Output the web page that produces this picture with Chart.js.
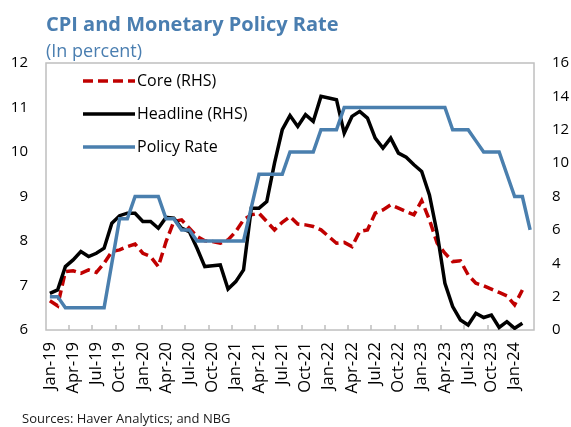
<!DOCTYPE html>
<html><head><meta charset="utf-8">
<script src="https://cdn.jsdelivr.net/npm/chart.js@4"></script>
<style>
html,body{margin:0;padding:0;background:#fff;}
#wrap{position:relative;width:571px;height:427px;overflow:hidden;font-family:"Open Sans",sans-serif;}
#c{position:absolute;left:0;top:0;}
.t{position:absolute;white-space:nowrap;}
</style></head><body>
<div id="wrap">
<canvas id="c" width="571" height="427"></canvas>
<div class="t" style="left:46px;top:14px;font-size:20px;line-height:20px;font-weight:700;color:#4a7eb0">CPI and Monetary Policy Rate</div>
<div class="t" style="left:46px;top:41px;font-size:18px;line-height:18px;color:#4a7eb0">(In percent)</div>
<div class="t" style="left:22px;top:412px;font-size:13px;line-height:13px;color:#1a1a1a">Sources: Haver Analytics; and NBG</div>
</div>
<script>
const months = ["Jan-19","Feb-19","Mar-19","Apr-19","May-19","Jun-19","Jul-19","Aug-19","Sep-19","Oct-19","Nov-19","Dec-19",
"Jan-20","Feb-20","Mar-20","Apr-20","May-20","Jun-20","Jul-20","Aug-20","Sep-20","Oct-20","Nov-20","Dec-20",
"Jan-21","Feb-21","Mar-21","Apr-21","May-21","Jun-21","Jul-21","Aug-21","Sep-21","Oct-21","Nov-21","Dec-21",
"Jan-22","Feb-22","Mar-22","Apr-22","May-22","Jun-22","Jul-22","Aug-22","Sep-22","Oct-22","Nov-22","Dec-22",
"Jan-23","Feb-23","Mar-23","Apr-23","May-23","Jun-23","Jul-23","Aug-23","Sep-23","Oct-23","Nov-23","Dec-23",
"Jan-24","Feb-24","Mar-24"];

// Headline CPI, RHS (percent)
const headline = [2.2,2.4,3.8,4.2,4.7,4.4,4.6,4.9,6.4,6.85,7.0,7.0,
6.5,6.5,6.1,6.75,6.7,6.1,5.9,4.9,3.8,3.85,3.9,2.45,
2.9,3.6,7.3,7.3,7.7,10.0,12.0,12.85,12.2,12.9,12.5,14.0,
13.9,13.8,11.8,12.8,13.1,12.7,11.5,10.9,11.5,10.6,10.35,9.9,
9.5,8.1,5.8,2.8,1.4,0.6,0.3,1.0,0.75,0.9,0.15,0.5,
0.1,0.4,null];

// Core CPI, RHS (percent)
const core = [1.75,1.45,3.5,3.55,3.4,3.6,3.45,4.0,4.7,4.8,5.0,5.15,
4.6,4.4,3.8,5.3,6.5,6.6,6.1,5.6,5.35,5.3,5.2,5.4,
5.9,6.6,6.9,7.0,6.5,6.0,6.45,6.8,6.35,6.3,6.2,6.0,
5.6,5.2,5.25,5.0,5.9,6.0,7.0,7.2,7.5,7.3,7.1,6.9,
7.75,6.6,5.2,4.6,4.1,4.15,3.3,2.8,2.65,2.45,2.25,2.05,
1.5,2.4,null];

// Policy rate, LHS (percent)
const policy = [6.75,6.75,6.5,6.5,6.5,6.5,6.5,6.5,7.5,8.5,8.5,9.0,
9.0,9.0,9.0,8.5,8.5,8.25,8.25,8.0,8.0,8.0,8.0,8.0,
8.0,8.0,8.75,9.5,9.5,9.5,9.5,10,10,10,10,10.5,
10.5,10.5,11,11,11,11,11,11,11,11,11,11,
11,11,11,11,10.5,10.5,10.5,10.25,10,10,10,9.5,
9,9,8.25];

const seriesLabels = ["Core (RHS)","Headline (RHS)","Policy Rate"];

Chart.defaults.font.family = "'Open Sans', sans-serif";
Chart.defaults.color = "#000";

const framePlugin = {
  id:'frame',
  beforeDatasetsDraw(chart){
    const {ctx, chartArea:a, scales:{x}} = chart;
    ctx.save();
    ctx.strokeStyle = '#bfbfbf';
    ctx.lineWidth = 1.5;
    ctx.strokeRect(a.left, a.top, a.right - a.left, a.bottom - a.top);
    const half = (x.getPixelForValue(1) - x.getPixelForValue(0)) / 2;
    ctx.beginPath();
    for (let i = 3; i < months.length; i += 3) {
      const px = Math.round(x.getPixelForValue(i) - half);
      ctx.moveTo(px, a.bottom);
      ctx.lineTo(px, a.bottom - 5);
    }
    ctx.stroke();
    ctx.restore();
  }
};

const legendPlugin = {
  id:'lg',
  afterDraw(chart){
    const {ctx, chartArea:a} = chart;
    chart.data.datasets.forEach((ds, k) => {
      const y = a.top + 18 + k * 33;
      const x0 = a.left + 37;
      ctx.save();
      ctx.strokeStyle = ds.borderColor;
      ctx.lineWidth = ds.borderWidth;
      ctx.setLineDash(ds.borderDash || []);
      ctx.beginPath(); ctx.moveTo(x0, y); ctx.lineTo(x0 + 52, y); ctx.stroke();
      ctx.setLineDash([]);
      ctx.fillStyle = '#000';
      ctx.font = "16px 'Open Sans', sans-serif";
      ctx.textBaseline = 'middle';
      ctx.fillText(ds.label, x0 + 54, y);
      ctx.restore();
    });
  }
};

new Chart(document.getElementById('c'), {
  type:'line',
  data:{
    labels: months,
    datasets:[
      {label:seriesLabels[0], data:core, yAxisID:'y1', borderColor:'#c00000', borderWidth:3.5, borderDash:[10,5], pointRadius:0, tension:0, order:2, spanGaps:false},
      {label:seriesLabels[1], data:headline, yAxisID:'y1', borderColor:'#000000', borderWidth:3.5, pointRadius:0, tension:0, order:1},
      {label:seriesLabels[2], data:policy, yAxisID:'y', borderColor:'#4a7fae', borderWidth:3.5, pointRadius:0, tension:0, order:0}
    ]
  },
  options:{
    responsive:false, animation:false,
    layout:{padding:{top:63,left:0,right:0,bottom:0}},
    plugins:{legend:{display:false}, title:{display:false}, tooltip:{enabled:false}},
    scales:{
      x:{type:'category', offset:true,
         grid:{display:false, drawTicks:false}, border:{display:false},
         ticks:{autoSkip:false, minRotation:90, maxRotation:90, padding:12, font:{size:16.5}, color:'#000',
           callback:(v,i)=> i % 3 === 0 ? months[i] : ''},
         afterFit:(s)=>{ s.height = 97; }},
      y:{position:'left', min:6, max:12,
         grid:{display:false, drawTicks:false}, border:{display:false},
         ticks:{stepSize:1, padding:18, font:{size:15}, color:'#000'},
         afterFit:(s)=>{ s.width = 46; }},
      y1:{position:'right', min:0, max:16,
         grid:{display:false, drawTicks:false}, border:{display:false},
         ticks:{stepSize:2, padding:18, font:{size:15}, color:'#000'},
         afterFit:(s)=>{ s.width = 37; }}
    }
  },
  plugins:[framePlugin, legendPlugin]
});
</script>
</body></html>
